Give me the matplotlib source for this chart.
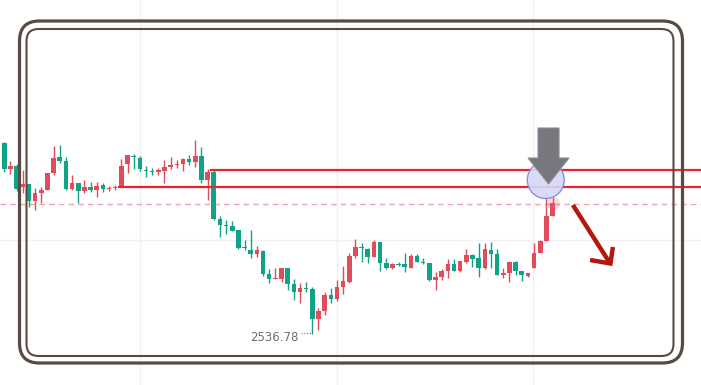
import numpy as np
import matplotlib
matplotlib.use("Agg")
import matplotlib.pyplot as plt
import matplotlib.patches as mpatches
from matplotlib.transforms import IdentityTransform

# candle data
opens = [2728, 2702, 2705, 2684, 2687, 2670, 2678, 2681, 2698, 2714,
         2710, 2682, 2688, 2680, 2684, 2681, 2686, 2682, 2683, 2684,
         2707, 2715, 2713, 2701, 2700, 2699, 2700, 2704, 2706, 2707,
         2712, 2709, 2715, 2691, 2699, 2652, 2646, 2645, 2641, 2624,
         2621, 2617, 2620, 2597, 2592, 2592, 2603, 2587, 2579, 2583,
         2582, 2552, 2560, 2576, 2572, 2584, 2589, 2615, 2624, 2622,
         2614, 2629, 2608, 2603, 2607, 2607, 2603, 2615, 2609, 2608,
         2591, 2594, 2600, 2607, 2600, 2609, 2616, 2613, 2603, 2621,
         2617, 2596, 2598, 2609, 2600, 2595, 2603, 2618, 2630, 2655]
highs = [2729, 2710, 2707, 2701, 2687, 2683, 2684, 2698, 2725, 2726,
         2714, 2696, 2688, 2691, 2689, 2689, 2688, 2685, 2686, 2712,
         2716, 2717, 2715, 2705, 2703, 2703, 2711, 2714, 2711, 2713,
         2716, 2731, 2724, 2702, 2701, 2655, 2651, 2650, 2641, 2631,
         2641, 2625, 2621, 2602, 2603, 2603, 2603, 2592, 2588, 2589,
         2584, 2563, 2579, 2583, 2591, 2605, 2618, 2632, 2628, 2623,
         2631, 2629, 2613, 2608, 2609, 2618, 2617, 2617, 2613, 2608,
         2599, 2602, 2612, 2612, 2610, 2622, 2617, 2628, 2628, 2629,
         2622, 2603, 2609, 2610, 2600, 2598, 2628, 2631, 2679, 2674]
lows = [2699, 2697, 2680, 2678, 2664, 2661, 2668, 2681, 2696, 2708,
        2681, 2681, 2668, 2678, 2679, 2674, 2679, 2680, 2681, 2684,
        2698, 2702, 2700, 2694, 2696, 2696, 2688, 2702, 2703, 2700,
        2706, 2704, 2688, 2671, 2651, 2634, 2637, 2640, 2622, 2621,
        2613, 2614, 2595, 2588, 2592, 2589, 2581, 2571, 2568, 2579,
        2536.78, 2541, 2556, 2568, 2570, 2577, 2588, 2613, 2609, 2608,
        2614, 2600, 2602, 2602, 2605, 2599, 2603, 2609, 2607, 2590,
        2581, 2591, 2593, 2600, 2599, 2608, 2604, 2594, 2602, 2603,
        2596, 2593, 2589, 2596, 2590, 2594, 2603, 2618, 2630, 2655]
closes = [2702, 2705, 2682, 2687, 2670, 2678, 2681, 2698, 2713, 2710,
          2682, 2688, 2680, 2684, 2681, 2685, 2682, 2683, 2684, 2705,
          2716, 2714, 2702, 2700, 2699, 2701, 2704, 2706, 2707, 2712,
          2709, 2715, 2691, 2699, 2652, 2646, 2645, 2640, 2623, 2623,
          2617, 2621, 2597, 2592, 2593, 2603, 2587, 2579, 2583, 2582,
          2552, 2560, 2576, 2572, 2584, 2590, 2615, 2624, 2623, 2614,
          2629, 2608, 2603, 2607, 2606, 2604, 2615, 2609, 2608, 2591,
          2594, 2600, 2607, 2600, 2610, 2616, 2612, 2603, 2622, 2617,
          2596, 2598, 2609, 2600, 2596, 2598, 2618, 2630, 2655, 2668]

low_label = "2536.78"
last_price = 2667
resist_hi = 2701   # upper red line, starts at candle 34
resist_lo = 2684   # lower red line, starts at candle 19
resist_hi_start = 34
resist_lo_start = 19

up_col = '#e04c5a'
dn_col = '#10a388'

fig = plt.figure(figsize=(7.01, 3.85), dpi=100)
ax = fig.add_axes([0, 0, 1, 1])
ax.set_xlim(-0.7, 113.1)
ax.set_ylim(2486, 2871)
ax.axis('off')

# faint grid
for gx in [22.0, 54.0, 85.8]:
    ax.axvline(gx, color='#f1f1f4', lw=1, zorder=0)
ax.axhline(2631, color='#f1f1f4', lw=1, zorder=0)

# candles
x = np.arange(len(opens))
o = np.array(opens); h = np.array(highs); l = np.array(lows); c = np.array(closes)
cols = [up_col if cc >= oo else dn_col for oo, cc in zip(o, c)]
ax.vlines(x, l, h, colors=cols, lw=1.0, zorder=3)
bot = np.minimum(o, c)
ht = np.maximum(np.abs(c - o), 0.8)
ax.bar(x, ht, bottom=bot, width=0.74, color=cols, zorder=4, linewidth=0)

# last-price dashed line
ax.axhline(last_price, color='#f5a3aa', lw=1, ls=(0, (4, 3)), zorder=2)
ax.plot(len(opens) - 1, last_price + 1, 'o', ms=9, color='#f06070', alpha=0.25, mec='none', zorder=5)

# resistance lines
ax.plot([resist_hi_start - 0.4, 113.1], [resist_hi, resist_hi], color='#f0202e', lw=1.6, zorder=5)
ax.plot([resist_lo_start - 0.4, 113.1], [resist_lo, resist_lo], color='#f0202e', lw=1.6, zorder=5)

# low label
imin = int(np.argmin(l))
ax.plot([imin - 1.8, imin - 0.2], [l[imin] + 1, l[imin] + 1], color='#6b6e78', lw=0.8, ls=(0, (1, 1.5)), zorder=5)
ax.text(imin - 2.2, l[imin] - 3, low_label, ha='right', va='center', fontsize=8.5, color='#6b6e78', zorder=5)

# blue circle
circ = mpatches.Ellipse((87.9, 2691), 6.0, 37, facecolor='#d7d8f8', edgecolor='#7c86e6', lw=1, alpha=0.9, zorder=6)
ax.add_patch(circ)

# grey down arrow
arrow = mpatches.Polygon([(86.64, 2743), (86.64, 2713), (85.02, 2713), (88.35, 2687),
                          (91.67, 2713), (90.05, 2713), (90.05, 2743)],
                         closed=True, facecolor='#76787d', edgecolor='#8a8c90', lw=0.8, zorder=7)
ax.add_patch(arrow)

# red diagonal arrow
red = '#b3170e'
ax.plot([92.3, 98.3], [2666, 2608], color=red, lw=3.2, solid_capstyle='butt', zorder=7)
ax.plot([95.1, 98.4, 98.8], [2611, 2607.5, 2624], color=red, lw=3.2,
        solid_joinstyle='miter', solid_capstyle='butt', zorder=7)

# double rounded frame (pixel coords)
H = 385
outer = mpatches.FancyBboxPatch((19.5 + 20, H - 363 + 20), 663 - 40, 342 - 40,
                                boxstyle='round,pad=20', transform=IdentityTransform(),
                                fill=False, edgecolor='#5b4a42', lw=2.3, zorder=10)
inner = mpatches.FancyBboxPatch((26.5 + 12, H - 356 + 12), 647 - 24, 327 - 24,
                                boxstyle='round,pad=12', transform=IdentityTransform(),
                                fill=False, edgecolor='#5b4a42', lw=1.5, zorder=10)
fig.add_artist(outer)
fig.add_artist(inner)

fig.savefig('out.png', dpi=100)
